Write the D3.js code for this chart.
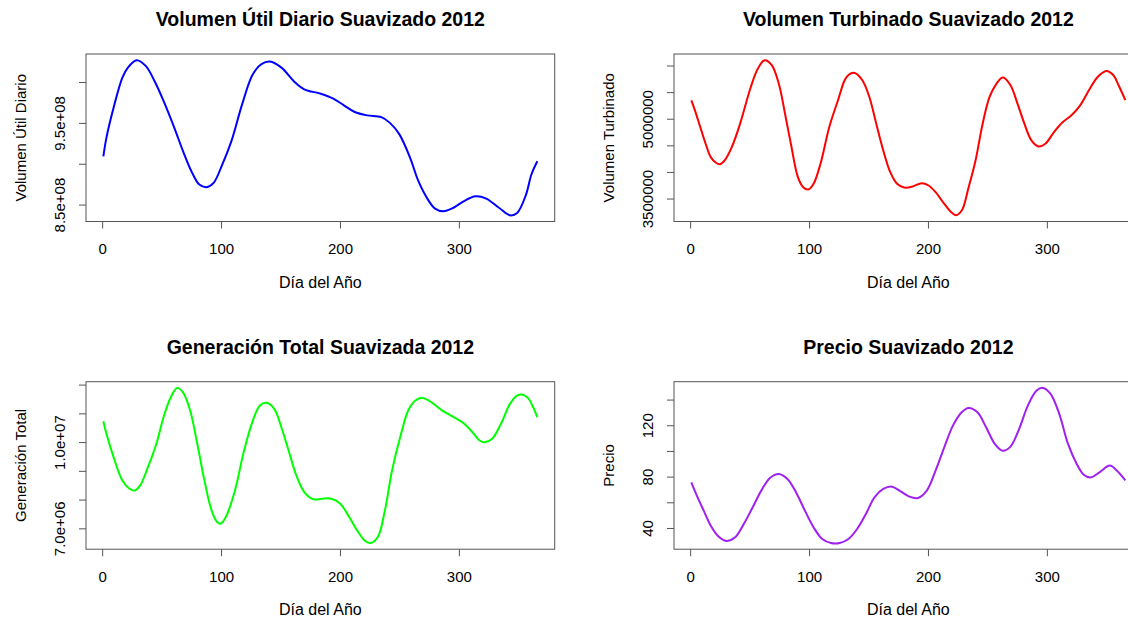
<!DOCTYPE html>
<html>
<head>
<meta charset="utf-8">
<script src="https://cdn.jsdelivr.net/npm/d3@7"></script>
<style>
  body { margin: 0; background: #fff; }
  text { font-family: "Liberation Sans", Arial, sans-serif; fill: #000; }
</style>
</head>
<body>
<div id="container"></div>
<script>
// DATA (day of year -> value)

const dayTicks = [0, 100, 200, 300];

const utilDays = [1, 3.6, 9.6, 17, 21.6, 29, 36.6, 44, 51.7, 60.7, 68, 75.7, 81.7, 87.7, 93.7, 101, 108.7, 117.7, 126.7, 134, 141, 150.8, 161, 170, 183.8, 194, 203, 212, 222.8, 234.8, 242, 250, 259, 266, 274, 280, 287, 295, 304, 314, 323, 334, 343, 349, 356.5, 361, 366];
const utilVals = [9.09e8, 9.32e8, 9.685e8, 1.0053e9, 1.0176e9, 1.0267e9, 1.0197e9, 1.0013e9, 9.767e8, 9.44e8, 9.154e8, 8.888e8, 8.745e8, 8.712e8, 8.765e8, 8.99e8, 9.277e8, 9.727e8, 1.0095e9, 1.0218e9, 1.025e9, 1.0176e9, 1.0013e9, 9.911e8, 9.857e8, 9.8e8, 9.718e8, 9.636e8, 9.592e8, 9.571e8, 9.5e8, 9.359e8, 9.072e8, 8.786e8, 8.561e8, 8.451e8, 8.418e8, 8.458e8, 8.54e8, 8.602e8, 8.574e8, 8.458e8, 8.369e8, 8.397e8, 8.623e8, 8.868e8, 9.031e8];
const utilTicks = [8.5e8, 9.0e8, 9.5e8, 1.0e9];
const utilLabels = ["8.5e+08", "", "9.5e+08", ""];

const turbDays = [1, 4, 8.5, 13, 17.3, 21.7, 25.2, 29, 35, 42, 51, 57, 62.7, 68.6, 74.5, 80.3, 84.7, 90.6, 95, 99.4, 103.8, 109.6, 117, 124.3, 131.6, 138.4, 144.8, 150.7, 156.5, 162.4, 168.3, 174, 180, 187, 194.7, 200.5, 206.4, 213.7, 219.6, 223.4, 228.4, 234.2, 240, 246, 251.8, 257.7, 263, 269.4, 275.3, 281.1, 287, 292.9, 298.7, 306, 313.4, 320.7, 328, 335.4, 342.7, 350, 356, 360.3, 366];
const turbVals = [5.346e6, 5.158e6, 4.843e6, 4.53e6, 4.278e6, 4.172e6, 4.146e6, 4.216e6, 4.467e6, 4.907e6, 5.597e6, 5.943e6, 6.1e6, 6.006e6, 5.661e6, 5.032e6, 4.53e6, 3.901e6, 3.713e6, 3.67e6, 3.777e6, 4.154e6, 4.843e6, 5.346e6, 5.785e6, 5.861e6, 5.723e6, 5.409e6, 4.907e6, 4.404e6, 3.995e6, 3.777e6, 3.707e6, 3.726e6, 3.788e6, 3.745e6, 3.619e6, 3.4e6, 3.242e6, 3.185e6, 3.274e6, 3.713e6, 4.216e6, 4.907e6, 5.409e6, 5.661e6, 5.774e6, 5.629e6, 5.284e6, 4.907e6, 4.593e6, 4.48e6, 4.53e6, 4.749e6, 4.937e6, 5.064e6, 5.252e6, 5.535e6, 5.785e6, 5.898e6, 5.817e6, 5.629e6, 5.35e6];
const turbTicks = [3.5e6, 4.0e6, 4.5e6, 5.0e6, 5.5e6, 6.0e6];
const turbLabels = ["3500000", "", "", "5000000", "", ""];

const genDays = [1, 3.6, 9.6, 17, 23, 27.6, 32, 38, 45.6, 51.6, 57.7, 63, 68, 74, 80, 86, 92, 96.7, 99.7, 104, 111.7, 119, 126.7, 132.7, 138, 144.7, 150.7, 156.8, 162.8, 170, 177.8, 185, 192.8, 200.3, 207.8, 215.3, 221.3, 225.8, 231.8, 237.8, 243.8, 251.4, 257.4, 263.4, 269.4, 277, 286, 295, 304, 311.4, 317.4, 322, 328, 335.4, 343, 349, 352.9, 358, 362.5, 366];
const genVals = [1.0727e7, 1.0288e7, 9.476e6, 8.667e6, 8.378e6, 8.319e6, 8.493e6, 9.073e6, 9.941e6, 1.0865e7, 1.1559e7, 1.1885e7, 1.1733e7, 1.1097e7, 9.941e6, 8.667e6, 7.625e6, 7.219e6, 7.163e6, 7.392e6, 8.319e6, 9.649e6, 1.075e7, 1.1271e7, 1.1365e7, 1.1156e7, 1.0517e7, 9.708e6, 8.899e6, 8.26e6, 8.007e6, 8.031e6, 8.031e6, 7.858e6, 7.392e6, 6.872e6, 6.559e6, 6.49e6, 6.698e6, 7.625e6, 9.014e6, 1.0288e7, 1.1097e7, 1.1444e7, 1.1538e7, 1.1385e7, 1.1097e7, 1.0889e7, 1.0656e7, 1.0344e7, 1.0056e7, 9.997e6, 1.0114e7, 1.0635e7, 1.133e7, 1.1618e7, 1.1653e7, 1.1538e7, 1.1212e7, 1.0865e7];
const genTicks = [7e6, 8e6, 9e6, 1e7, 1.1e7, 1.2e7];
const genLabels = ["7.0e+06", "", "", "1.0e+07", "", ""];

const precioDays = [1, 5.6, 11.4, 17.3, 23.2, 30.5, 37.8, 45.1, 52.5, 59.8, 67.1, 74.5, 81.8, 89.1, 96.5, 103.8, 111.1, 118.4, 125.8, 133.1, 140.4, 147.8, 155, 162.4, 169.8, 177, 184.4, 191.7, 199, 206.4, 213.7, 221, 228.4, 234.2, 241.6, 248.9, 256.2, 262.7, 269.4, 276.7, 284, 291.4, 296.7, 303.1, 310.4, 317.8, 325.1, 331, 336.8, 344.2, 353, 358.8, 366];
const precioVals = [75.5, 65.2, 53.5, 41.8, 34, 29.9, 32.7, 43.1, 56, 69.1, 79, 82.1, 78.2, 67.7, 53.5, 40.5, 31.4, 28.3, 28.3, 31.4, 39.2, 50.9, 63.9, 70.4, 72.2, 68.5, 64.4, 63.4, 69.1, 84.7, 102.8, 119.7, 130.1, 133.5, 130.1, 118.4, 105.5, 100.2, 103.4, 117.2, 135.3, 147, 149.1, 144.4, 128.9, 105.5, 89.9, 81.5, 79.4, 83.3, 88.6, 84.7, 77];
const precioTicks = [40, 60, 80, 100, 120, 140];
const precioLabels = ["40", "", "80", "", "120", ""];

// SET UP SVG

const chartwidth = 1128;
const chartheight = 617;

const svg = d3.select("#container")
    .append("svg")
    .attr("width", chartwidth)
    .attr("height", chartheight);

const boxW = 468.7;
const boxH = 167.5;

const panels = [
    {title: "Volumen Útil Diario Suavizado 2012", ylab: "Volumen Útil Diario", days: utilDays, vals: utilVals,
     ticks: utilTicks, labels: utilLabels, color: "#0000ff", left: 86, top: 54},
    {title: "Volumen Turbinado Suavizado 2012", ylab: "Volumen Turbinado", days: turbDays, vals: turbVals,
     ticks: turbTicks, labels: turbLabels, color: "#ff0000", left: 674, top: 54},
    {title: "Generación Total Suavizada 2012", ylab: "Generación Total", days: genDays, vals: genVals,
     ticks: genTicks, labels: genLabels, color: "#00ff00", left: 86, top: 381.7},
    {title: "Precio Suavizado 2012", ylab: "Precio", days: precioDays, vals: precioVals,
     ticks: precioTicks, labels: precioLabels, color: "#a020f0", left: 674, top: 381.7}
];

panels.forEach(function(p) {

    const g = svg.append("g");
    const bottom = p.top + boxH;
    const right = p.left + boxW;

// SCALES (R style: 4% padding on each side of the data range)

    const xr = d3.extent(p.days);
    const xpad = (xr[1] - xr[0]) * 0.04;
    const xScale = d3.scaleLinear()
        .domain([xr[0] - xpad, xr[1] + xpad])
        .range([p.left, right]);

    const yr = d3.extent(p.vals);
    const ypad = (yr[1] - yr[0]) * 0.04;
    const yScale = d3.scaleLinear()
        .domain([yr[0] - ypad, yr[1] + ypad])
        .range([bottom, p.top]);

// AXES

    const xAxis = g.append("g")
        .attr("class", "axis")
        .attr("transform", `translate(0,${bottom})`)
        .call(d3.axisBottom(xScale).tickValues(dayTicks).tickSize(7).tickPadding(15).tickFormat(d3.format("d")));
    xAxis.select(".domain").remove();
    xAxis.selectAll("text").style("font-size", "15px").attr("font-family", null);

    const yAxis = g.append("g")
        .attr("class", "axis")
        .attr("transform", `translate(${p.left},0)`)
        .call(d3.axisLeft(yScale).tickValues(p.ticks).tickSize(7)
            .tickFormat(function(d, i) { return p.labels[i]; }));
    yAxis.select(".domain").remove();
    yAxis.selectAll("text")
        .attr("x", null).attr("dy", null)
        .attr("transform", "translate(-21,0)rotate(-90)")
        .style("text-anchor", "middle")
        .style("font-size", "15px");

    g.selectAll(".tick line").attr("stroke", "#555");

// BOX

    g.append("rect")
        .attr("x", p.left)
        .attr("y", p.top)
        .attr("width", boxW)
        .attr("height", boxH)
        .attr("fill", "none")
        .attr("stroke", "#555");

// LINE

    const line = d3.line()
        .x(function(d, i) { return xScale(p.days[i]); })
        .y(function(d) { return yScale(d); })
        .curve(d3.curveCatmullRom.alpha(0.5));

    g.append("path")
        .attr("d", line(p.vals))
        .attr("fill", "none")
        .attr("stroke", p.color)
        .attr("stroke-width", 2);

// LABELS

    g.append("text")
        .attr("x", p.left + boxW / 2)
        .attr("y", p.top - 28)
        .attr("text-anchor", "middle")
        .style("font-size", "19.5px")
        .style("font-weight", "bold")
        .text(p.title);

    g.append("text")
        .attr("x", p.left + boxW / 2)
        .attr("y", bottom + 66)
        .attr("text-anchor", "middle")
        .style("font-size", "16px")
        .text("Día del Año");

    g.append("text")
        .attr("transform", `translate(${p.left - 60},${p.top + boxH / 2})rotate(-90)`)
        .attr("text-anchor", "middle")
        .style("font-size", "15px")
        .text(p.ylab);
});
</script>
</body>
</html>
